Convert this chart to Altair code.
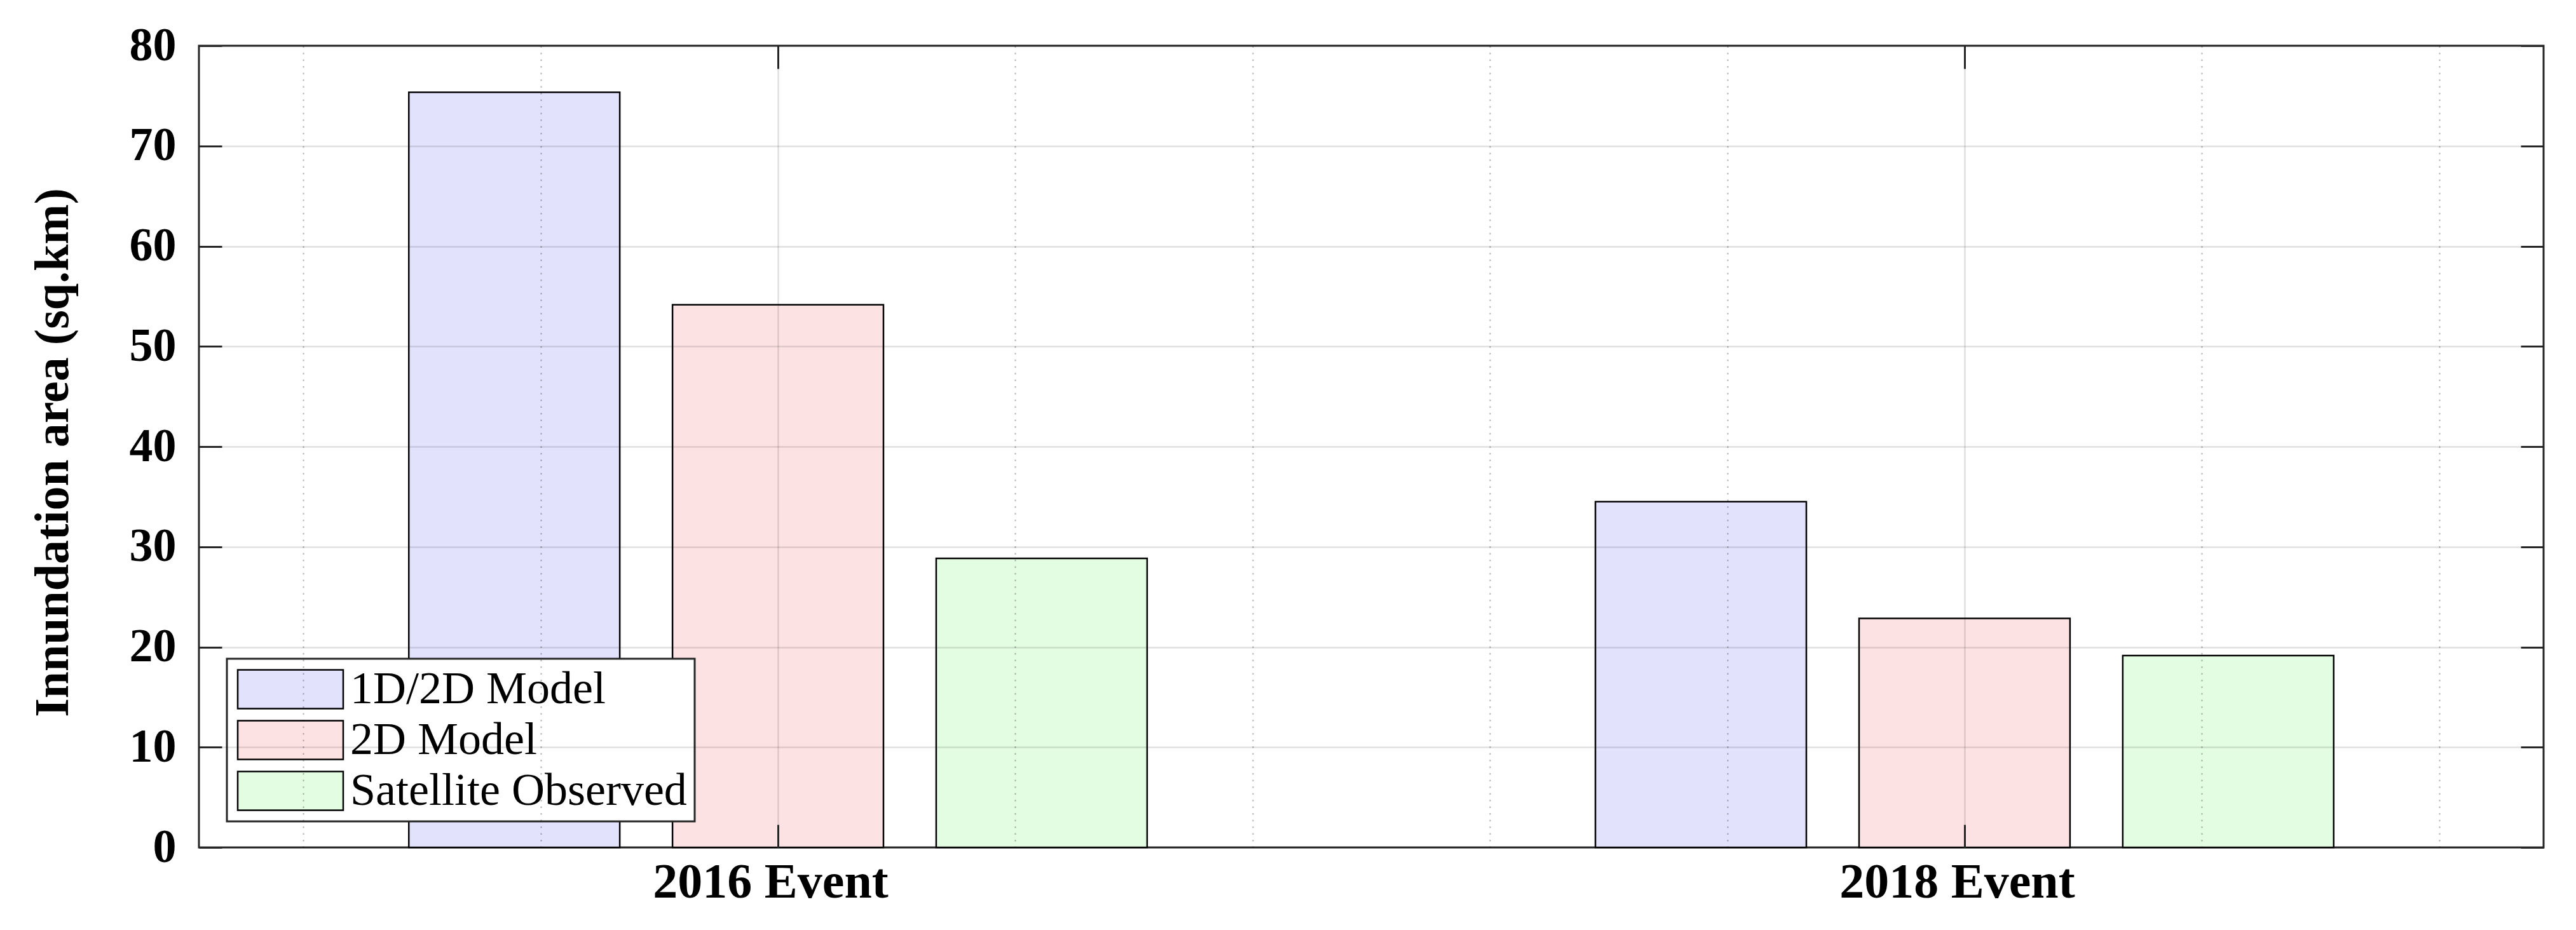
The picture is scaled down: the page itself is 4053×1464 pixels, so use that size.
import json
import altair as alt
import pandas as pd

# ---- data ----
events = ["2016 Event", "2018 Event"]
series = ["1D/2D Model", "2D Model", "Satellite Observed"]
vals_1d2d = [75.35, 34.5]
vals_2d = [54.15, 22.85]
vals_sat = [28.85, 19.15]
colors = ["#E2E2FD", "#FDE2E4", "#E2FDE2"]
y_ticks = [0, 10, 20, 30, 40, 50, 60, 70, 80]
x_ticks = [1, 2]
x_minor = [0.6, 0.8, 1.2, 1.4, 1.6, 1.8, 2.2, 2.4]

rows = []
for si, (s, vals) in enumerate(zip(series, [vals_1d2d, vals_2d, vals_sat])):
    for ei, (e, v) in enumerate(zip(events, vals)):
        rows.append({"event": e, "series": s, "value": v, "ei": ei, "si": si})
df = pd.DataFrame(rows)

W, H = 3689, 1262
FONT = "Liberation Serif"
FRAME = "#262626"

XS = alt.Scale(domain=[0.512, 2.488], nice=False, zero=False)
YS = alt.Scale(domain=[0, 80], nice=False, zero=False)

label_expr = json.dumps(events) + "[datum.value - 1]"

base = alt.Chart(df).transform_calculate(
    xc="datum.ei + 1 + (datum.si - 1) * 2 / 9",
).transform_calculate(
    xa="datum.xc - 0.4 * 2 / 9",
    xb="datum.xc + 0.4 * 2 / 9",
)

bars = base.mark_bar(stroke="black", strokeWidth=2.5, opacity=1).encode(
    x=alt.X("xa:Q", scale=XS, axis=alt.Axis(
        values=x_ticks, labelExpr=label_expr, grid=True, ticks=False, domain=False,
        title=None, labelFont=FONT, labelFontSize=78, labelFontWeight="bold",
        labelColor="black", labelPadding=16, labelBaseline="top", labelLimit=0,
        labelOffset=-12,
        gridColor="black", gridOpacity=0.12, gridWidth=2.5, zindex=1)),
    x2="xb:Q",
    y=alt.Y("value:Q", scale=YS, stack=None, axis=alt.Axis(
        values=y_ticks, grid=True, ticks=False, domain=False,
        title="Innundation area (sq.km)", titleFont=FONT, titleFontSize=76,
        titleFontWeight="bold", titleColor="black", titleAngle=270,
        titleBaseline="alphabetic", titleAlign="center", titleX=-207, titleY=640,
        labelFont=FONT, labelFontSize=74, labelFontWeight="bold", labelColor="black",
        labelPadding=36, labelAlign="right", labelBaseline="middle",
        gridColor="black", gridOpacity=0.12, gridWidth=2.5, zindex=1)),
    y2=alt.datum(0),
    color=alt.Color("series:N", scale=alt.Scale(domain=series, range=colors),
                    legend=alt.Legend(
                        title=None, orient="none", legendX=44, legendY=965,
                        symbolType="M-2.721,-1H2.721V1H-2.721Z", symbolSize=3721,
                        symbolOffset=52, symbolStrokeColor="black",
                        symbolStrokeWidth=2.5, symbolOpacity=1,
                        labelFont=FONT, labelFontSize=72,
                        labelColor="black", labelOffset=58, labelLimit=0,
                        padding=12, rowPadding=8, strokeColor=FRAME,
                        fillColor="white")),
)

minor = base.mark_point(opacity=0).encode(
    x=alt.X("xc:Q", scale=XS, axis=alt.Axis(
        values=x_minor, grid=True, gridDash=[2.5, 8], gridColor="black",
        gridOpacity=0.3, gridWidth=2, labels=False, ticks=False, domain=False,
        title=None, zindex=1)),
)


def xtick_layer(orient):
    return base.mark_point(opacity=0).encode(
        x=alt.X("xc:Q", scale=XS, axis=alt.Axis(
            orient=orient, values=x_ticks, offset=-36, tickSize=36,
            tickColor=FRAME, tickWidth=3, labels=False, domain=False,
            grid=False, title=None, zindex=2)),
    )


def ytick_layer(orient):
    return base.mark_point(opacity=0).encode(
        y=alt.Y("value:Q", scale=YS, axis=alt.Axis(
            orient=orient, values=y_ticks, offset=-36, tickSize=36,
            tickColor=FRAME, tickWidth=3, labels=False, domain=False,
            grid=False, title=None, zindex=2)),
    )


chart = alt.layer(
    bars, minor,
    xtick_layer("top"), xtick_layer("bottom"),
    ytick_layer("left"), ytick_layer("right"),
).resolve_scale(
    x="independent", y="independent"
).properties(
    width=W, height=H,
    autosize=alt.AutoSizeParams(type="none"),
    padding={"left": 305, "top": 64, "right": 40, "bottom": 100},
    background="white",
).configure_view(
    stroke=FRAME, strokeWidth=3
).configure_legend(
    strokeWidth=3
)

chart.save("out.html", embed_options={"renderer": "svg", "actions": False})
